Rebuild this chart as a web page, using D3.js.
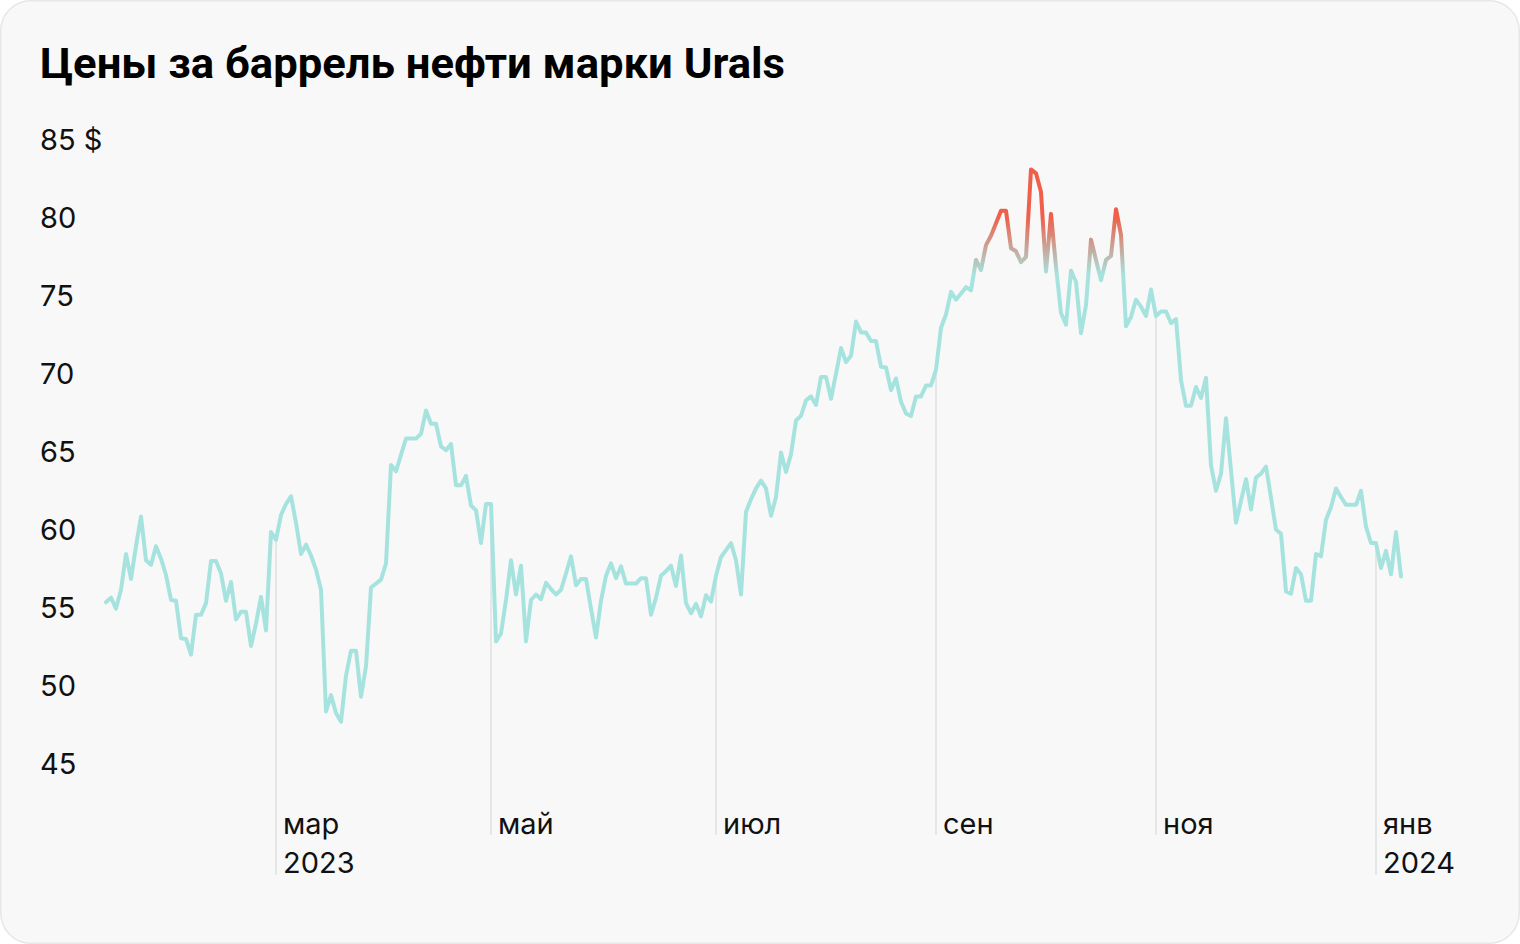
<!DOCTYPE html>
<html>
<head>
<meta charset="utf-8">
<script src="https://cdn.jsdelivr.net/npm/d3@7"></script>
<style>
  html, body { margin: 0; padding: 0; background: #ffffff; }
  svg { display: block; }
</style>
</head>
<body>
<svg id="chart" width="1520" height="944"></svg>
<script>
// ---- data ----
const title = "Цены за баррель нефти марки Urals";

// Urals price, USD per barrel, one value per trading day (mid-Jan 2023 – early Jan 2024)
const prices = [
  55.3, 55.6, 54.9, 56.1, 58.4, 56.8, 58.9, 60.8, 58.0, 57.7,
  58.9, 58.1, 57.05, 55.45, 55.4, 53.0, 52.95, 51.95, 54.5, 54.5,
  55.25, 57.95, 57.95, 57.15, 55.4, 56.6, 54.2, 54.7, 54.7, 52.5,
  53.95, 55.65, 53.5, 59.8, 59.3, 60.9, 61.6, 62.1, 60.4, 58.4,
  59.0, 58.3, 57.4, 56.1, 48.3, 49.35, 48.2, 47.65, 50.6, 52.2,
  52.2, 49.25, 51.2, 56.25, 56.5, 56.75, 57.8, 64.1, 63.7, 64.75,
  65.8, 65.8, 65.8, 66.1, 67.6, 66.75, 66.75, 65.3, 65.05, 65.45,
  62.8, 62.8, 63.4, 61.5, 61.2, 59.1, 61.6, 61.6, 52.8, 53.3,
  55.45, 58.0, 55.8, 57.65, 52.8, 55.45, 55.8, 55.5, 56.55, 56.15,
  55.8, 56.1, 57.15, 58.25, 56.4, 56.8, 56.8, 54.9, 53.05, 55.4,
  57.0, 57.8, 56.85, 57.6, 56.5, 56.5, 56.5, 56.85, 56.85, 54.5,
  55.6, 57.0, 57.3, 57.65, 56.35, 58.3, 55.25, 54.6, 55.2, 54.4,
  55.75, 55.35, 57.0, 58.2, 58.65, 59.1, 58.0, 55.8, 61.1, 61.9,
  62.6, 63.1, 62.6, 60.85, 62.05, 64.9, 63.65, 64.8, 66.95, 67.25,
  68.25, 68.5, 67.95, 69.75, 69.75, 68.35, 69.95, 71.6, 70.7, 71.1,
  73.3, 72.6, 72.6, 72.05, 72.05, 70.4, 70.35, 68.9, 69.65, 68.15,
  67.4, 67.25, 68.5, 68.5, 69.2, 69.2, 70.2, 72.9, 73.75, 75.2,
  74.7, 75.1, 75.5, 75.3, 77.25, 76.6, 78.2, 78.8, 79.6, 80.4,
  80.4, 78.0, 77.8, 77.1, 77.45, 83.05, 82.8, 81.6, 76.5, 80.2,
  76.8, 73.85, 73.1, 76.55, 75.85, 72.55, 74.35, 78.55, 77.25, 75.95,
  77.25, 77.5, 80.5, 78.85, 73.0, 73.6, 74.7, 74.25, 73.65, 75.35,
  73.65, 73.95, 73.95, 73.2, 73.45, 69.55, 67.9, 67.9, 69.1, 68.4,
  69.7, 64.1, 62.45, 63.55, 67.1, 63.75, 60.4, 61.8, 63.2, 61.25,
  63.3, 63.55, 64.0, 62.0, 59.95, 59.7, 56.0, 55.85, 57.5, 57.1,
  55.4, 55.4, 58.4, 58.25, 60.6, 61.4, 62.6, 62.05, 61.55, 61.55,
  61.55, 62.45, 60.15, 59.1, 59.1, 57.5, 58.6, 57.1, 59.8, 56.95
];

// month ticks: label, optional year line, index of the first trading day of that month
const monthLabels = ["мар", "май", "июл", "сен", "ноя", "янв"];
const yearLabels  = ["2023", "", "", "", "", "2024"];
const monthIndex  = [34, 77, 122, 166, 210, 254];

const yTicks = [45, 50, 55, 60, 65, 70, 75, 80, 85];
const yUnit = " $";

// ---- drawing ----
const W = 1520, H = 944;
const svg = d3.select("#chart");

svg.append("rect")
  .attr("x", 0.75).attr("y", 0.75)
  .attr("width", W - 1.5).attr("height", H - 1.5)
  .attr("rx", 30).attr("ry", 30)
  .attr("fill", "#f8f8f8")
  .attr("stroke", "#e7e7e7")
  .attr("stroke-width", 1.5);

const titleEl = svg.append("text")
  .attr("x", 40).attr("y", 78)
  .attr("font-family", "Roboto, 'Noto Sans', sans-serif")
  .attr("font-weight", 700)
  .attr("font-size", 42)
  .attr("fill", "#000")
  .text(title);
const tl = titleEl.node().getComputedTextLength();
if (Math.abs(tl - 745) > 4) {
  titleEl.attr("textLength", 745).attr("lengthAdjust", "spacingAndGlyphs");
}

const x = d3.scaleLinear()
  .domain([0, prices.length - 1])
  .range([106, 1401]);
const y = d3.scaleLinear()
  .domain([45, 85])
  .range([763, 139]);

const labelFont = "Inter, 'Noto Sans', sans-serif";

// y labels
svg.append("g").selectAll("text")
  .data(yTicks)
  .join("text")
  .attr("x", 40)
  .attr("y", d => y(d) + 10.5)
  .attr("font-family", labelFont)
  .attr("font-size", 29)
  .attr("fill", "#111")
  .text(d => d === 85 ? d + yUnit : d);

// month tick lines from the data value down
const ticks = monthLabels.map((m, i) => ({ m, yr: yearLabels[i], idx: monthIndex[i] }));
const tg = svg.append("g");
tg.selectAll("line")
  .data(ticks)
  .join("line")
  .attr("x1", d => x(d.idx)).attr("x2", d => x(d.idx))
  .attr("y1", d => y(prices[d.idx]))
  .attr("y2", d => d.yr ? 875 : 835)
  .attr("stroke", "#e0e0e0")
  .attr("stroke-width", 1.5);

tg.selectAll("text.m")
  .data(ticks)
  .join("text")
  .attr("class", "m")
  .attr("x", d => x(d.idx) + 7)
  .attr("y", 834)
  .attr("font-family", labelFont)
  .attr("font-size", 29)
  .attr("fill", "#111")
  .text(d => d.m);

tg.selectAll("text.yr")
  .data(ticks.filter(d => d.yr))
  .join("text")
  .attr("class", "yr")
  .attr("x", d => x(d.idx) + 7)
  .attr("y", 873)
  .attr("font-family", labelFont)
  .attr("font-size", 29)
  .attr("fill", "#111")
  .text(d => d.yr);

// gradient: teal below ~76.5, red above ~80
const defs = svg.append("defs");
const grad = defs.append("linearGradient")
  .attr("id", "lineGrad")
  .attr("gradientUnits", "userSpaceOnUse")
  .attr("x1", 0).attr("x2", 0)
  .attr("y1", y(76.3)).attr("y2", y(80));
grad.append("stop").attr("offset", "0%").attr("stop-color", "#a6e3df");
grad.append("stop").attr("offset", "100%").attr("stop-color", "#ef5f49");

const line = d3.line()
  .x((d, i) => x(i))
  .y(d => y(d));

svg.append("path")
  .datum(prices)
  .attr("d", line)
  .attr("fill", "none")
  .attr("stroke", "url(#lineGrad)")
  .attr("stroke-width", 4)
  .attr("stroke-linejoin", "round")
  .attr("stroke-linecap", "round");
</script>
</body>
</html>
